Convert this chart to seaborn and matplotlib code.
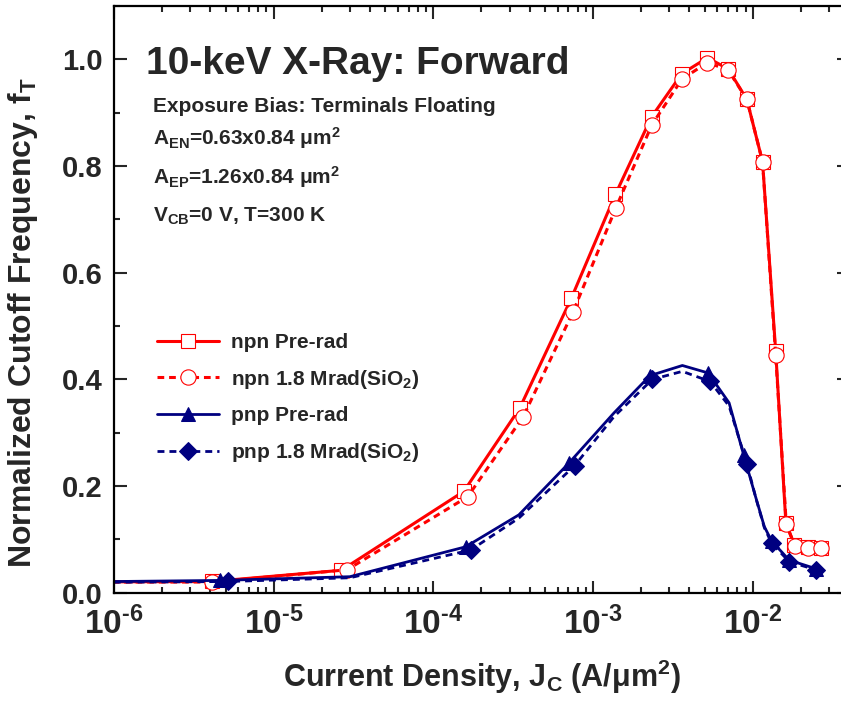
import numpy as np
import pandas as pd
import matplotlib
matplotlib.use("Agg")
import matplotlib.pyplot as plt
import seaborn as sns
from matplotlib.ticker import FixedLocator, LogLocator, NullFormatter, MultipleLocator

# ---------------- data ----------------
npn_pre_x = [5e-7, 4.1e-6, 2.65e-5, 1.55e-4, 3.47e-4, 7.3e-4, 1.38e-3, 2.32e-3, 3.59e-3,
             5.2e-3, 7.0e-3, 9.17e-3, 1.15e-2, 1.39e-2, 1.61e-2, 1.82e-2, 2.22e-2, 2.67e-2]
npn_pre_y = [0.020, 0.021, 0.042, 0.190, 0.346, 0.552, 0.747, 0.892, 0.973,
             1.003, 0.982, 0.925, 0.808, 0.453, 0.131, 0.090, 0.085, 0.083]

npn_post_x = [5e-7, 4.1e-6, 2.88e-5, 1.64e-4, 3.65e-4, 7.5e-4, 1.39e-3, 2.33e-3, 3.6e-3,
              5.2e-3, 7.0e-3, 9.17e-3, 1.15e-2, 1.39e-2, 1.62e-2, 1.83e-2, 2.22e-2, 2.67e-2]
npn_post_y = [0.020, 0.020, 0.043, 0.180, 0.330, 0.527, 0.722, 0.877, 0.963,
              0.994, 0.980, 0.925, 0.808, 0.445, 0.128, 0.088, 0.083, 0.083]

pnp_pre_x = [5e-7, 4.6e-6, 3.0e-5, 1.59e-4, 3.43e-4, 7.05e-4, 1.35e-3, 2.27e-3, 3.62e-3,
             5.25e-3, 7.1e-3, 8.75e-3, 1.04e-2, 1.18e-2, 1.31e-2, 1.69e-2, 2.48e-2]
pnp_pre_y = [0.020, 0.023, 0.030, 0.086, 0.146, 0.243, 0.337, 0.407, 0.426,
             0.412, 0.356, 0.259, 0.180, 0.124, 0.097, 0.061, 0.045]

pnp_post_x = [5e-7, 5.2e-6, 3.0e-5, 1.71e-4, 3.43e-4, 7.65e-4, 1.35e-3, 2.35e-3, 3.62e-3,
              5.4e-3, 7.1e-3, 9.17e-3, 1.05e-2, 1.18e-2, 1.31e-2, 1.69e-2, 2.48e-2]
pnp_post_y = [0.019, 0.021, 0.028, 0.080, 0.140, 0.238, 0.330, 0.400, 0.415,
              0.396, 0.350, 0.242, 0.175, 0.122, 0.093, 0.058, 0.043]

pnp_marked = [1, 3, 5, 7, 9, 11, 14, 15, 16]

labels = ["npn Pre-rad", "npn 1.8 Mrad(SiO$_2$)", "pnp Pre-rad", "pnp 1.8 Mrad(SiO$_2$)"]
xtick_vals = [1e-6, 1e-5, 1e-4, 1e-3, 1e-2]
xtick_labels = ["10$^{\\text{-}6}$", "10$^{\\text{-}5}$", "10$^{\\text{-}4}$",
                "10$^{\\text{-}3}$", "10$^{\\text{-}2}$"]
ytick_vals = [0.0, 0.2, 0.4, 0.6, 0.8, 1.0]

title = "10-keV X-Ray: Forward"
notes = ["Exposure Bias: Terminals Floating",
         "A$_{EN}$=0.63x0.84 μm$^2$",
         "A$_{EP}$=1.26x0.84 μm$^2$",
         "V$_{CB}$=0 V, T=300 K"]

# ---------------- style ----------------
sns.set_style("ticks")
plt.rcParams["font.family"] = ["Liberation Sans", "DejaVu Sans"]
plt.rcParams["font.weight"] = "bold"
plt.rcParams["mathtext.fontset"] = "custom"
plt.rcParams["mathtext.default"] = "bf"
plt.rcParams["mathtext.bf"] = "Liberation Sans:bold"
plt.rcParams["mathtext.rm"] = "Liberation Sans:bold"
plt.rcParams["mathtext.it"] = "Liberation Sans:bold"

RED = "#FF0000"
NAVY = "#000080"

fig = plt.figure(figsize=(8.41, 7.11), dpi=100)
W, H = 841, 711
ax = fig.add_axes([114 / W, 1 - 592.7 / H, 735 / W, 586.7 / H])

df1 = pd.DataFrame({"x": npn_pre_x, "y": npn_pre_y})
df2 = pd.DataFrame({"x": npn_post_x, "y": npn_post_y})
df3 = pd.DataFrame({"x": pnp_pre_x, "y": pnp_pre_y})
df4 = pd.DataFrame({"x": pnp_post_x, "y": pnp_post_y})

sns.lineplot(data=df1, x="x", y="y", ax=ax, color=RED, lw=2.2, marker="s", ms=9.5,
             mfc="white", mec=RED, mew=0.8, label=labels[0], errorbar=None, sort=False)
sns.lineplot(data=df2, x="x", y="y", ax=ax, color=RED, lw=2.2, linestyle=(0, (2.2, 1.6)),
             marker="o", ms=11, mfc="white", mec=RED, mew=0.8, label=labels[1],
             errorbar=None, sort=False)
sns.lineplot(data=df3, x="x", y="y", ax=ax, color=NAVY, lw=2.0, marker="^", ms=10,
             mfc=NAVY, mec=NAVY, markevery=pnp_marked, label=labels[2],
             errorbar=None, sort=False)
sns.lineplot(data=df4, x="x", y="y", ax=ax, color=NAVY, lw=2.0, linestyle=(0, (2.5, 1.8)),
             marker="D", ms=9, mfc=NAVY, mec=NAVY, markevery=pnp_marked, label=labels[3],
             errorbar=None, sort=False)

ax.set_xscale("log")
ax.set_xlim(1e-6, 4e-2)
ax.set_ylim(0, 1.1)

ax.xaxis.set_major_locator(FixedLocator(xtick_vals))
ax.set_xticklabels(xtick_labels)
ax.xaxis.set_minor_locator(LogLocator(base=10, subs=np.arange(2, 10), numticks=20))
ax.xaxis.set_minor_formatter(NullFormatter())
ax.set_yticks(ytick_vals)
ax.set_yticklabels([f"{v:.1f}" for v in ytick_vals])
ax.yaxis.set_minor_locator(MultipleLocator(0.1))

ax.tick_params(which="major", direction="in", length=9, width=1.5, top=True, right=True)
ax.tick_params(which="minor", direction="in", length=4.5, width=1.5, top=True, right=True)
ax.tick_params(axis="x", which="major", labelsize=24, pad=10)
ax.tick_params(axis="y", which="major", labelsize=21, pad=8)
for lab in ax.get_xticklabels() + ax.get_yticklabels():
    lab.set_fontweight("bold")
for s in ax.spines.values():
    s.set_linewidth(1.6)
    s.set_color("black")

ax.set_xlabel("Current Density, J$_C$ (A/μm$^2$)", fontsize=22, fontweight="bold", labelpad=12)
ax.set_ylabel("Normalized Cutoff Frequency, f$_T$", fontsize=23, fontweight="bold")
ax.yaxis.set_label_coords(-0.1, 0.46)

ax.text(0.043, 0.884, title, transform=ax.transAxes, fontsize=28, fontweight="bold",
        va="baseline", ha="left")
note_y = [0.820, 0.763, 0.697, 0.632]
for t, yy in zip(notes, note_y):
    ax.text(0.053, yy, t, transform=ax.transAxes, fontsize=15, fontweight="bold",
            va="baseline", ha="left")

leg = ax.legend(loc="upper left", bbox_to_anchor=(0.058, 0.443), frameon=False,
                fontsize=15, handlelength=3.0, handletextpad=0.55, labelspacing=0.76,
                borderaxespad=0, borderpad=0)
for t in leg.get_texts():
    t.set_fontweight("bold")

fig.savefig("out.png", dpi=100)
